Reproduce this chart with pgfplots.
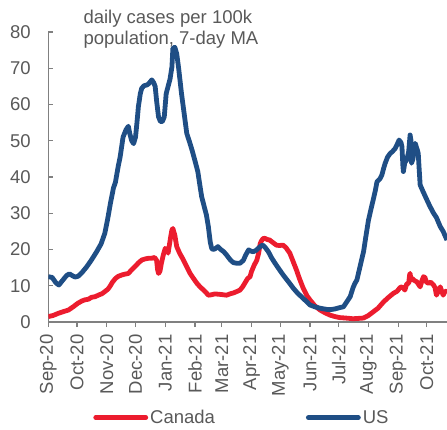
\documentclass[border=0pt]{standalone}
\usepackage{fontspec}
\setmainfont{Liberation Sans}
\usepackage{pgfplots}
\pgfplotsset{compat=1.18}
\definecolor{usblue}{HTML}{1F4E85}
\definecolor{cared}{HTML}{EC1C2E}
\definecolor{txtgray}{HTML}{595959}
\definecolor{axgray}{HTML}{808080}
\begin{document}
\begin{tikzpicture}
\begin{axis}[
 scale only axis, width=398.7pt, height=290pt,
 xmin=0, xmax=416, ymin=0, ymax=80,
 axis x line*=bottom, axis y line*=left,
 axis line style={axgray, line width=1.2pt},
 tick style={axgray, line width=1.2pt},
 major tick length=5pt,
 xtick align=outside, ytick align=inside,
 ytick={0,10,...,80},
 xtick={0,30,61,91,122,153,181,212,242,273,303,334,365,395},
 xticklabels={Sep-20,Oct-20,Nov-20,Dec-20,Jan-21,Feb-21,Mar-21,Apr-21,May-21,Jun-21,Jul-21,Aug-21,Sep-21,Oct-21},
 xticklabel style={rotate=90, anchor=east},
 xticklabel shift=4pt, yticklabel shift=14pt,
 ticklabel style={font=\fontsize{18.5}{21}\selectfont, text=txtgray},
 /pgf/number format/assume math mode=true,
 legend columns=2,
 legend style={draw=none, at={(0.105,-0.33)}, anchor=west, font=\fontsize{18.5}{21}\selectfont, text=txtgray,
   /tikz/every even column/.append style={column sep=89pt}},
 legend image code/.code={\draw[#1, line width=4.8pt, line cap=round] (0pt,0pt) -- (50pt,0pt);},
 every axis plot/.append style={line width=4.8pt, line join=round},
]
\addplot[cared] coordinates {
(0,1.5)(5,1.8)(10.5,2.4)(15,2.8)(21,3.3)(26,4.2)(31,5.2)(35,5.8)(38,6.1)(42,6.3)(45,6.8)(49,7)(53,7.5)(56,7.8)(59,8.4)(62,9)(64,9.7)(67,11)(70,12)(73,12.6)(77,13)(80,13.2)(83.5,13.4)(87,14.4)(90.5,15.3)(94,16.3)(97.5,17.1)(101,17.4)(105,17.6)(108,17.6)(111,17.8)(113,17)(114,14.5)(115,13.4)(116.5,14)(118,16.2)(120,18.5)(122,20.3)(124,20)(125,19)(126.5,21.5)(128,24)(129,25.4)(130,25.8)(131,24.8)(132,24)(134,20.8)(137,19)(141,17.1)(144,15.5)(148,13.4)(151,12.2)(155,10.7)(158,9.8)(162,8.8)(165,8)(167,7.4)(170,7.5)(173,7.7)(176,7.7)(180,7.6)(183,7.5)(186,7.4)(190,7.8)(193,8)(196.6,8.4)(200,8.8)(203,9.8)(205,10.7)(208,12)(210.5,12.5)(212,13.9)(215,15.8)(217.5,17)(219.5,19)(221,21.5)(222,22.2)(224,23)(226,23.1)(228,22.8)(231,22.6)(234,22)(238,21.2)(241,21.1)(245,21.2)(248,20.5)(252,19)(255,17)(259,14.3)(262,12)(266,9.3)(270,7.2)(273,6.1)(278,4.5)(283.6,3.3)(289,2.5)(294,1.9)(299,1.5)(304.5,1.2)(310,1.1)(318,0.9)(324,1.0)(329,1.1)(334,1.8)(339,2.8)(344,3.8)(350,5.6)(355,6.8)(360,7.9)(364,8.5)(367,9.5)(369,9.7)(371,9.2)(372,8.8)(374,10.5)(376,10.7)(377,13)(377.5,13.4)(378.5,11.5)(380,12)(381,11.6)(383,11.3)(384.5,11.1)(386,10.5)(388,9.7)(390,11.5)(391.5,12.5)(393,12.3)(394.5,11)(396.7,10.7)(399,11)(402,10.2)(403.5,9.5)(405,7.4)(407,8.5)(409,9.7)(410.5,8.5)(412,7.4)(414,8.5)(416,8.4)
};
\addlegendentry{Canada}
\addplot[usblue] coordinates {
(0,12.5)(4,12.3)(8,10.8)(11,10.2)(15,11.5)(19,12.8)(22,13.3)(25,12.8)(28,12.4)(31,12.6)(35,13.6)(40,15.2)(45,17.1)(50,19.2)(55,21.5)(59,24.5)(62,28.5)(65,33)(68,37)(70,38.5)(73,43)(75,45.6)(78,51)(81,53)(83.5,54)(85,52)(87,50)(89,49.2)(91,51)(92.5,55)(94,59.4)(96,63)(97.5,64.5)(100,65.2)(103,65.4)(105,65.8)(108,66.8)(110,66)(111.5,65)(113,61)(115,56.6)(117,55.3)(119,55.3)(121,56.6)(123,63)(125,65)(127,67)(129,70.4)(130,75.5)(132,75.8)(134,74)(136,70)(139,63)(142,57)(144.5,52)(147,50)(150,47.4)(153,44.5)(156,41.5)(158,38)(160,34.6)(163,31.5)(165,29.5)(167,26.3)(169,22)(170.5,20.3)(172,20)(174,20.2)(177,20.8)(180,20)(183,19.4)(186,18.5)(190,17.1)(193,16.4)(196.6,16.2)(200,16.2)(203.5,17)(206,18.5)(209,19.9)(212,19.5)(214,19.4)(217,19.8)(219,20.3)(222,21)(224,21.2)(226.5,20.5)(229.6,19.4)(233,17.7)(236.6,16.2)(241,14.5)(245,13)(250,11.3)(255.7,9.3)(260,8)(266,6.5)(270,5.5)(273,4.7)(278,4.2)(283.6,3.8)(290,3.5)(294,3.4)(299,3.6)(304.5,4)(308,4.2)(310,5)(312,5.8)(315,7)(318,9.5)(320,10.7)(322,11.6)(325,15)(329,19.5)(331,23)(334,28)(337,31.5)(339,33.7)(341,36)(343,38.7)(346,39.5)(348,40.5)(350,42.5)(351.5,43.8)(354,45.5)(356.7,46.5)(359,47)(362,47.9)(364,49)(366,50.2)(368,49.5)(369,48.4)(370,43)(370.5,41.5)(372,44)(374,44.7)(376,47)(377.5,51.6)(378.5,50)(379,43.8)(380.5,45)(382.8,49.3)(385,47.5)(386,46.5)(387,42)(388,37.8)(391,36)(395,33.7)(398,32)(402,30)(405,28.8)(409,26.3)(412,25)(416,22.6)
};
\addlegendentry{US}
\end{axis}
\node[anchor=base west, inner sep=0, text=txtgray, font=\fontsize{18.5}{21}\selectfont] at (35pt,298pt) {daily cases per 100k};
\node[anchor=base west, inner sep=0, text=txtgray, font=\fontsize{18.5}{21}\selectfont] at (35pt,277pt) {population, 7-day MA};
\pgfresetboundingbox
\path[use as bounding box] (-48.3pt,-107pt) rectangle (398.7pt,322pt);
\end{tikzpicture}
\end{document}
